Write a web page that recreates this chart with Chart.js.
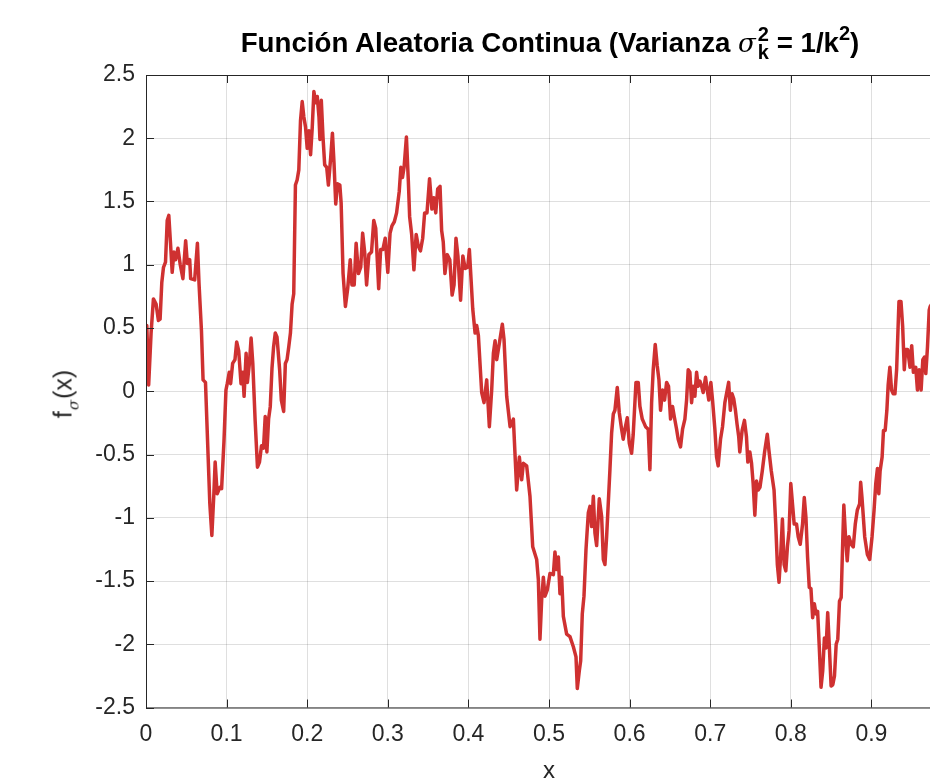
<!DOCTYPE html>
<html>
<head>
<meta charset="utf-8">
<script src="https://cdn.jsdelivr.net/npm/chart.js@4/dist/chart.umd.min.js"></script>
<style>
  html, body { margin:0; padding:0; background:#fff; overflow:hidden; width:930px; height:779px; }
  #wrap { position:relative; width:990px; height:800px; }
  #c { position:absolute; left:0; top:0; }
  #title { position:absolute; left:550px; top:27px; transform:translateX(-50%); white-space:nowrap;
           font-family:"Liberation Sans", Arial, sans-serif; font-weight:bold; font-size:27.7px; color:#000; line-height:31px; }
  #title .sig { font-family:"DejaVu Serif", "Liberation Serif", serif; font-style:italic; font-weight:normal; font-size:26px; }
  #title .stack { display:inline-block; vertical-align:middle; line-height:18px; font-size:20px; text-align:left; margin-left:2px; position:relative; top:-2px; }
  #title .stack span { display:block; }
  #title sup { font-size:20px; line-height:0; position:relative; top:-2px; vertical-align:super; }
  #ylab { position:absolute; left:63px; top:394px; transform:translate(-50%,-50%) rotate(-90deg); white-space:nowrap;
          font-family:"Liberation Sans", Arial, sans-serif; font-size:25px; color:#262626; }
  #ylab sub { font-family:"DejaVu Serif", serif; font-style:italic; font-size:15px; vertical-align:-7px; line-height:0; margin:0 1px; }
</style>
</head>
<body>
<div id="wrap">
  <canvas id="c" width="990" height="800"></canvas>
  <div id="title">Función Aleatoria Continua (Varianza <span class="sig">σ</span><span class="stack"><span>2</span><span>k</span></span> = 1/k<sup>2</sup>)</div>
  <div id="ylab">f<sub>σ</sub>(x)</div>
</div>
<script>
// ---- data ----
const xValues = [
 0.000,0.001,0.0033,0.0063,0.0092,0.0125,0.0154,0.0175,0.0196,0.0217,0.0242,0.0263,0.0283,0.0304,0.0325,0.0346,0.0367,0.0396,0.0425,0.0458,
 0.0492,0.0513,0.0542,0.0554,0.0604,0.0638,0.0658,0.0688,0.0708,0.0738,0.0771,0.0792,0.0817,0.0842,0.0858,0.0883,0.0917,0.0938,0.0967,0.0992,
 0.1008,0.1033,0.1050,0.1075,0.1104,0.1125,0.1150,0.1179,0.1200,0.1217,0.1242,0.1258,0.1283,0.1304,0.1325,0.1354,0.1383,0.1408,0.1433,0.1458,
 0.1479,0.1500,0.1521,0.1542,0.1563,0.1583,0.1604,0.1625,0.1658,0.1679,0.1708,0.1729,0.1750,0.1771,0.1792,0.1813,0.1833,0.1854,0.1875,0.1896,
 0.1917,0.1938,0.1958,0.1979,0.2000,0.2021,0.2042,0.2063,0.2083,0.2104,0.2125,0.2146,0.2158,0.2175,0.2196,0.2217,0.2242,0.2263,0.2292,0.2313,
 0.2333,0.2354,0.2375,
 0.2405,0.2421,0.2445,0.2474,0.2502,0.2534,0.2555,0.2583,0.2607,0.2636,0.2664,0.2688,0.2713,0.2737,0.2765,0.2798,0.2826,0.2850,0.2887,0.2911,
 0.2939,0.2968,0.3000,0.3028,0.3053,0.3081,0.3109,0.3142,0.3162,0.3182,0.3202,0.3231,0.3255,0.3271,0.3296,0.3324,0.3352,0.3377,0.3405,0.3433,
 0.3457,0.3486,0.3518,0.3547,0.3571,0.3595,0.3619,0.3648,0.3668,0.3688,0.3709,0.3737,0.3769,0.3798,0.3822,0.3846,0.3870,0.3903,0.3931,0.3960,
 0.3992,0.4012,
 0.4054,0.4083,0.4103,0.4124,0.4165,0.4194,0.4227,0.4260,0.4289,0.4310,0.4331,0.4351,0.4384,0.4421,0.4442,0.4475,0.4517,0.4558,0.4599,0.4632,
 0.4661,0.4682,0.4723,0.4764,0.4798,0.4847,0.4868,0.4888,0.4909,0.4930,0.4950,0.4979,0.5012,0.5054,0.5074,0.5095,0.5116,0.5136,0.5157,0.5178,
 0.5219,0.5260,0.5302,0.5335,0.5351,0.5376,0.5393,0.5413,0.5434,0.5459,0.5488,0.5508,0.5529,0.5550,0.5570,0.5591,0.5624,0.5653,0.5674,0.5694,
 0.5715,
 0.5756,0.5777,0.5798,0.5818,0.5847,0.5872,0.5901,0.5921,0.5942,0.5971,0.5996,0.6025,0.6045,0.6079,0.6107,0.6128,0.6157,0.6178,0.6198,0.6231,
 0.6252,0.6273,0.6293,0.6318,0.6343,0.6364,0.6384,0.6409,0.6434,0.6459,0.6483,0.6508,0.6533,0.6554,0.6583,0.6603,0.6632,0.6657,0.6686,0.6707,
 0.6727,0.6748,0.6769,0.6789,0.6810,0.6831,0.6851,0.6872,0.6893,0.6913,0.6942,0.6963,0.6983,0.7008,0.7029,0.7058,0.7079,0.7099,0.7128,0.7153,
 0.7182,0.7211,
 0.7229,0.7250,0.7271,0.7292,0.7313,0.7333,0.7354,0.7367,0.7396,0.7425,0.7450,0.7467,0.7492,0.7513,0.7533,0.7554,0.7575,0.7596,0.7617,0.7646,
 0.7675,0.7708,0.7729,0.7758,0.7792,0.7813,0.7833,0.7854,0.7875,0.7896,0.7917,0.7938,0.7958,0.7979,0.8000,0.8021,0.8042,0.8071,0.8092,0.8117,
 0.8146,0.8167,0.8188,0.8208,0.8229,0.8250,0.8271,0.8292,0.8313,0.8333,0.8354,0.8375,0.8396,0.8417,0.8438,0.8458,0.8479,0.8500,0.8521,0.8542,
 0.8563,0.8583,0.8604,0.8625,0.8646,0.8658,0.8679,0.8700,0.8721,0.8750,0.8775,0.8800,0.8825,0.8854,0.8867,0.8883,0.8917,0.8950,0.8979,0.9008,
 0.9033,0.9054,0.9075,0.9092,0.9108,0.9133,0.9150,0.9171,0.9192,0.9208,0.9229,0.9250,0.9271,0.9292,0.9313,0.9342,0.9367,0.9388,0.9408,0.9425,
 0.9450,0.9479,0.9500,0.9521,0.9550,0.9571,0.9592,0.9617,0.9638,0.9658,0.9675,0.9696,0.9717,0.9729,0.9760
];
const yValues = [
 0.42,0.52,0.05,0.46,0.73,0.69,0.56,0.57,0.86,0.98,1.02,1.35,1.39,1.17,0.94,1.10,1.04,1.13,1.00,0.89,
 1.19,1.01,1.04,0.89,0.88,1.17,0.85,0.48,0.09,0.07,-0.52,-0.89,-1.14,-0.81,-0.56,-0.81,-0.76,-0.77,-0.40,0.01,
 0.06,0.15,0.06,0.22,0.25,0.39,0.32,0.06,0.15,-0.04,0.30,0.07,0.22,0.42,0.22,-0.23,-0.60,-0.56,-0.43,-0.45,
 -0.20,-0.48,-0.22,-0.12,0.18,0.35,0.46,0.43,0.17,-0.07,-0.16,0.22,0.25,0.35,0.46,0.69,0.77,1.63,1.67,1.75,
 2.14,2.29,2.17,2.09,1.92,2.06,1.87,2.09,2.37,2.28,2.33,2.17,1.99,2.30,2.01,1.79,1.77,1.63,1.85,2.04,
 1.80,1.48,1.64,
 1.63,1.49,0.93,0.67,0.81,1.04,0.84,0.84,1.17,0.93,0.98,1.25,1.10,0.84,1.08,1.10,1.35,1.29,0.81,1.12,
 1.12,1.21,0.94,1.25,1.31,1.34,1.41,1.58,1.77,1.69,1.77,2.01,1.66,1.38,1.24,0.96,1.24,1.15,1.11,1.21,
 1.41,1.41,1.68,1.44,1.53,1.41,1.60,1.62,1.27,1.18,0.93,1.08,1.04,0.76,0.84,1.21,1.07,0.72,1.07,0.97,
 0.98,1.12,
 0.65,0.46,0.52,0.44,-0.01,-0.09,0.09,-0.28,0.01,0.30,0.40,0.25,0.38,0.53,0.41,-0.04,-0.28,-0.22,-0.78,-0.52,
 -0.70,-0.57,-0.59,-0.83,-1.23,-1.33,-1.49,-1.96,-1.65,-1.47,-1.62,-1.57,-1.44,-1.45,-1.27,-1.41,-1.31,-1.60,-1.47,-1.78,
 -1.92,-1.94,-2.02,-2.10,-2.35,-2.21,-2.13,-1.76,-1.62,-1.25,-0.96,-0.91,-1.07,-0.83,-1.12,-1.22,-0.85,-0.99,-1.33,-1.37,
 -1.15,
 -0.62,-0.33,-0.18,-0.15,0.03,-0.17,-0.30,-0.38,-0.30,-0.21,-0.41,-0.49,-0.34,0.07,0.07,-0.12,-0.22,-0.25,-0.28,-0.30,
 -0.62,-0.09,0.17,0.37,0.20,0.09,-0.15,0.01,-0.07,0.07,0.04,-0.22,-0.12,-0.20,-0.30,-0.38,-0.44,-0.30,-0.22,-0.07,
 0.17,0.15,-0.09,0.04,-0.04,0.15,0.04,0.08,0.04,-0.01,0.11,0.01,-0.07,0.07,-0.07,-0.30,-0.52,-0.59,-0.38,-0.28,
 -0.09,0.01,
 0.07,-0.15,-0.02,-0.06,-0.15,-0.26,-0.36,-0.48,-0.31,-0.23,-0.36,-0.56,-0.48,-0.57,-0.73,-0.98,-0.71,-0.78,-0.76,-0.63,
 -0.48,-0.34,-0.47,-0.63,-0.78,-1.05,-1.37,-1.51,-1.29,-1.01,-1.37,-1.42,-1.23,-1.10,-0.73,-0.89,-1.05,-1.05,-1.15,-1.21,
 -1.05,-0.84,-1.00,-1.31,-1.55,-1.56,-1.79,-1.68,-1.76,-1.74,-2.03,-2.34,-2.21,-1.95,-2.03,-1.75,-2.03,-2.33,-2.32,-2.25,
 -2.00,-1.96,-1.66,-1.63,-1.15,-0.90,-1.15,-1.34,-1.15,-1.21,-1.23,-1.05,-0.94,-0.89,-0.72,-0.84,-1.15,-1.29,-1.33,-1.15,
 -0.94,-0.73,-0.61,-0.81,-0.63,-0.52,-0.31,-0.31,-0.15,0.05,0.19,0.01,-0.02,-0.02,0.17,0.71,0.71,0.51,0.17,0.33,
 0.33,0.19,0.36,0.15,0.19,0.01,0.17,0.01,0.25,0.27,0.14,0.35,0.64,0.67,0.70
];
const xTicks = [0, 0.1, 0.2, 0.3, 0.4, 0.5, 0.6, 0.7, 0.8, 0.9, 1];
const yTicks = [-2.5, -2, -1.5, -1, -0.5, 0, 0.5, 1, 1.5, 2, 2.5];

const AXIS = '#262626';
const fmt = v => String(Math.round(v * 10) / 10);

const boxPlugin = {
  id: 'matlabBox',
  afterDatasetsDraw(chart) {
    const {ctx, chartArea: a, scales: {x, y}} = chart;
    ctx.save();
    ctx.strokeStyle = AXIS;
    ctx.lineWidth = 1;
    ctx.beginPath();
    ctx.rect(a.left + 0.5, a.top + 0.5, a.right - a.left, a.bottom - a.top);
    const L = 8;
    x.ticks.forEach(t => {
      const px = Math.round(x.getPixelForValue(t.value)) + 0.5;
      ctx.moveTo(px, a.bottom); ctx.lineTo(px, a.bottom - L);
      ctx.moveTo(px, a.top); ctx.lineTo(px, a.top + L);
    });
    y.ticks.forEach(t => {
      const py = Math.round(y.getPixelForValue(t.value)) + 0.5;
      ctx.moveTo(a.left, py); ctx.lineTo(a.left + L, py);
      ctx.moveTo(a.right, py); ctx.lineTo(a.right - L, py);
    });
    ctx.stroke();
    ctx.restore();
  }
};

new Chart(document.getElementById('c').getContext('2d'), {
  type: 'line',
  data: {
    datasets: [{
      data: xValues.map((v, i) => ({x: v, y: yValues[i]})),
      borderColor: '#cf3131',
      borderWidth: 3.5,
      pointRadius: 0,
      tension: 0,
      fill: false,
      borderJoinStyle: 'round'
    }]
  },
  options: {
    responsive: false,
    animation: false,
    events: [],
    layout: { padding: { top: 75, right: 38, left: 0, bottom: 0 } },
    plugins: { legend: { display: false }, tooltip: { enabled: false }, title: { display: false } },
    scales: {
      x: {
        type: 'linear', min: 0, max: 1,
        afterBuildTicks: s => { s.ticks = xTicks.map(v => ({value: v})); },
        afterFit: s => { s.height = 800 - 707.5; },
        grid: { color: 'rgba(38,38,38,0.15)', drawTicks: false, lineWidth: 1 },
        border: { display: false },
        ticks: { padding: 13, color: AXIS, maxRotation: 0, autoSkip: false,
                 font: { family: '"Liberation Sans", Arial, sans-serif', size: 23 }, callback: v => fmt(v) },
        title: { display: true, text: 'x', color: AXIS, padding: { top: 0, bottom: 14 },
                 font: { family: '"Liberation Sans", Arial, sans-serif', size: 24 } }
      },
      y: {
        type: 'linear', min: -2.5, max: 2.5,
        afterBuildTicks: s => { s.ticks = yTicks.map(v => ({value: v})); },
        afterFit: s => { s.width = 146; },
        grid: { color: 'rgba(38,38,38,0.15)', drawTicks: false, lineWidth: 1 },
        border: { display: false },
        ticks: { padding: 11, color: AXIS, autoSkip: false,
                 font: { family: '"Liberation Sans", Arial, sans-serif', size: 23 }, callback: v => fmt(v) }
      }
    }
  },
  plugins: [boxPlugin]
});
</script>
</body>
</html>
